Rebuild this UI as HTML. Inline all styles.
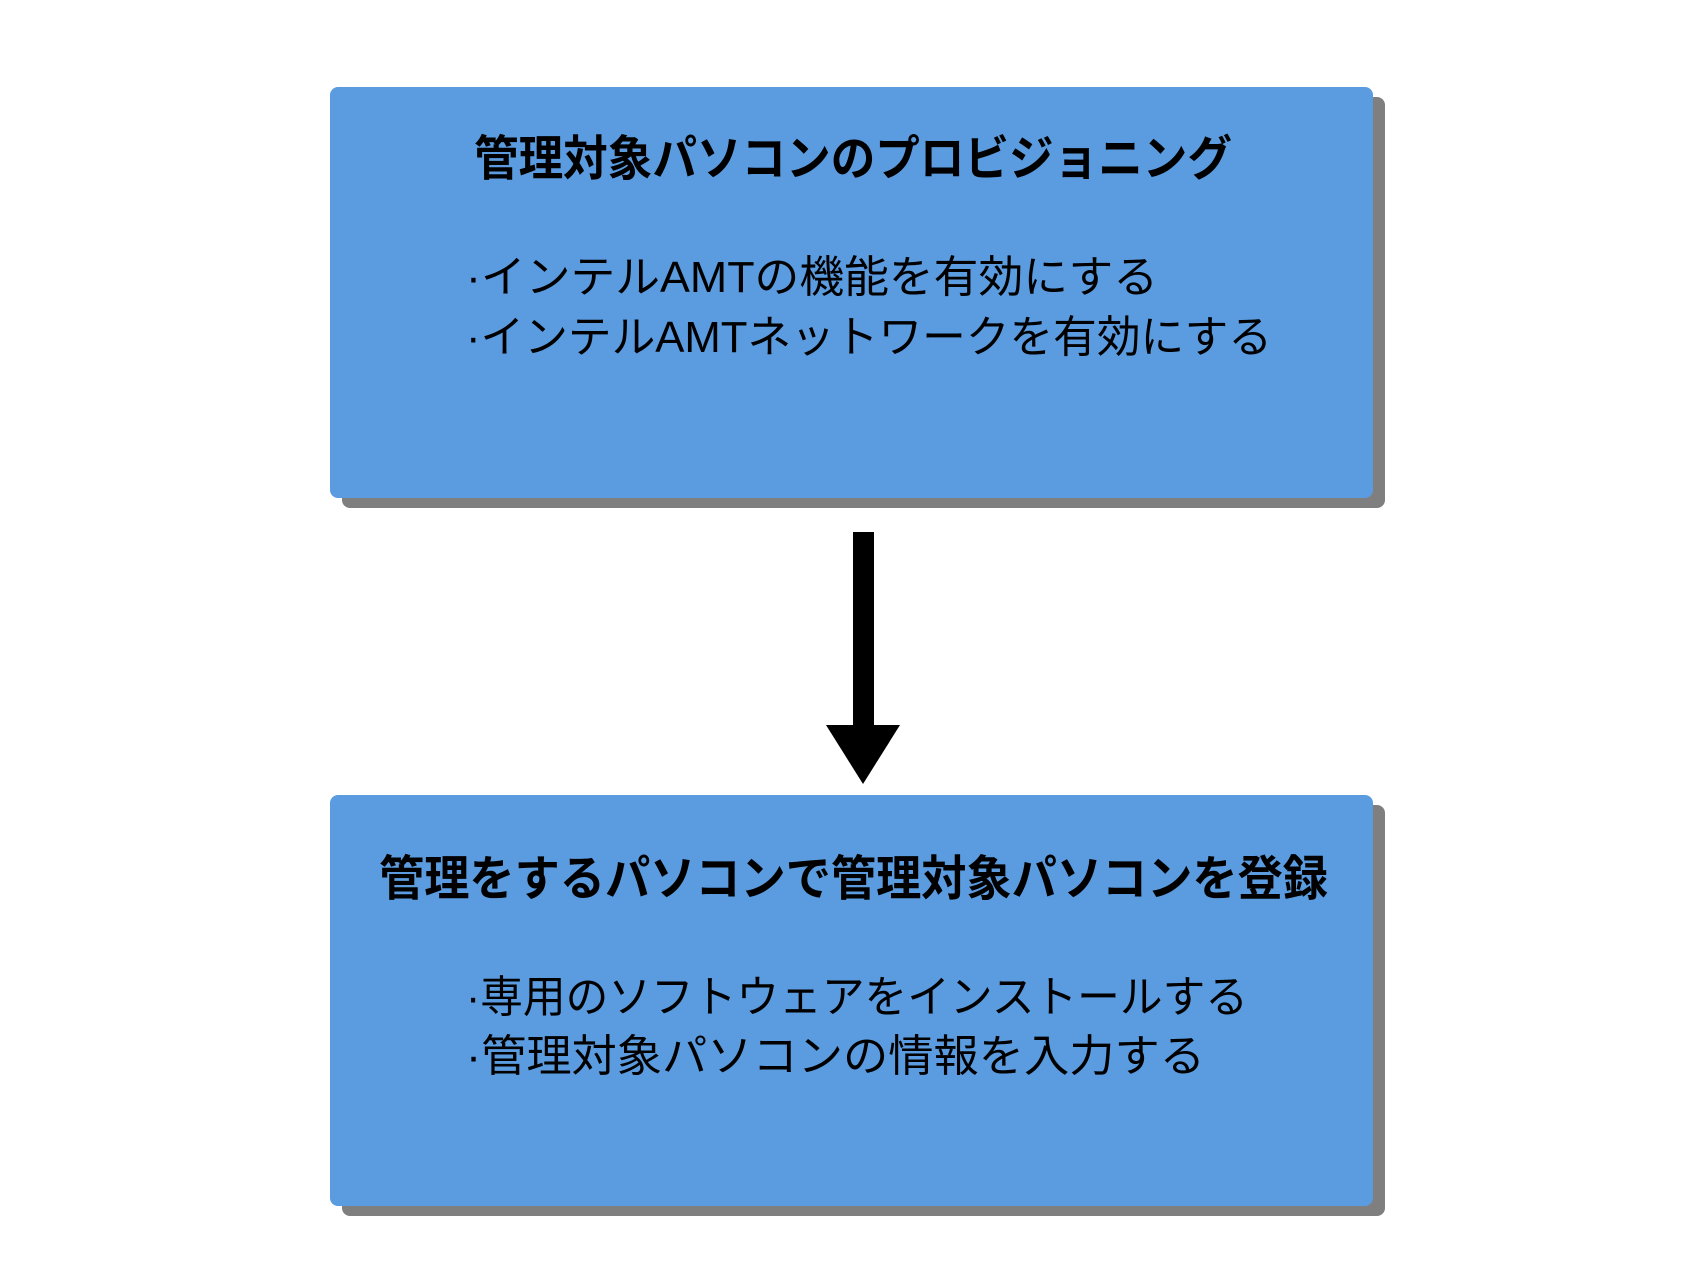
<!DOCTYPE html>
<html><head><meta charset="utf-8"><style>
html,body{margin:0;padding:0;background:#fff;}
svg{display:block}
text{font-family:"Liberation Sans","Noto Sans CJK JP",sans-serif;fill:#000}
</style></head><body>
<svg width="1701" height="1276" viewBox="0 0 1701 1276" xmlns="http://www.w3.org/2000/svg">
<rect x="342" y="97" width="1043" height="411" rx="8" fill="#7f7f7f"/>
<rect x="330" y="87" width="1043" height="411" rx="8" fill="#5b9bdf"/>
<rect x="342" y="805" width="1043" height="411" rx="8" fill="#7f7f7f"/>
<rect x="330" y="795" width="1043" height="411" rx="8" fill="#5b9bdf"/>
<rect x="853" y="532" width="21" height="198" fill="#000"/>
<polygon points="826,725 900,725 863,784" fill="#000"/>
<text x="474" y="175" font-size="48" font-weight="bold" textLength="758" lengthAdjust="spacingAndGlyphs">管理対象パソコンのプロビジョニング</text>
<text x="466" y="292" font-size="44" textLength="692" lengthAdjust="spacingAndGlyphs">·インテルAMTの機能を有効にする</text>
<text x="466" y="352" font-size="44" textLength="806" lengthAdjust="spacingAndGlyphs">·インテルAMTネットワークを有効にする</text>
<text x="379" y="895" font-size="48" font-weight="bold" textLength="949" lengthAdjust="spacingAndGlyphs">管理をするパソコンで管理対象パソコンを登録</text>
<text x="466" y="1012" font-size="44" textLength="782" lengthAdjust="spacingAndGlyphs">·専用のソフトウェアをインストールする</text>
<text x="466" y="1071" font-size="44" textLength="739" lengthAdjust="spacingAndGlyphs">·管理対象パソコンの情報を入力する</text>
</svg>
</body></html>
